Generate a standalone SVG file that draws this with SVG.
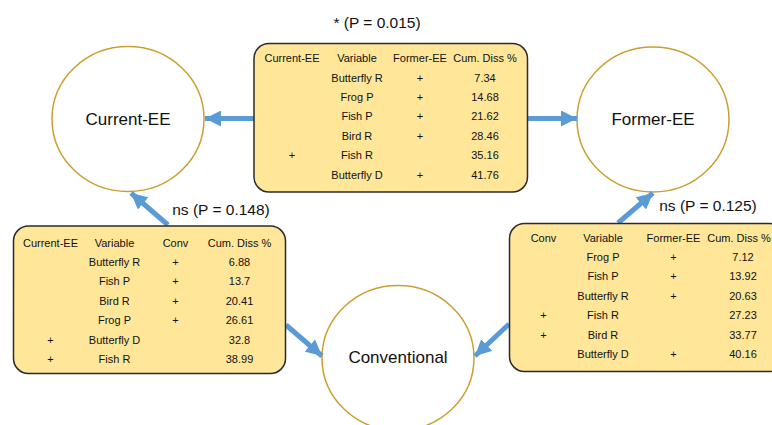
<svg xmlns="http://www.w3.org/2000/svg" width="772" height="425" viewBox="0 0 772 425">
<style>
.node{fill:#fff;stroke:#C9A030;stroke-width:1.5}
.lbl{font-family:"Liberation Sans",Arial,sans-serif;font-size:17px;fill:#111;text-anchor:middle}
.tbl{fill:#FFE699;stroke:#2b2b2b;stroke-width:1.5}
.t{font-family:"Liberation Sans",Arial,sans-serif;font-size:11px;fill:#111;text-anchor:middle}
.p{font-family:"Liberation Sans",Arial,sans-serif;font-size:15.5px;fill:#111;text-anchor:middle}
.c{stroke:#5B9BD5;stroke-width:5;fill:none}
</style>
<defs>
<marker id="ah" viewBox="0 0 10 10" refX="10" refY="5" markerWidth="3.2" markerHeight="3.2" orient="auto" markerUnits="strokeWidth">
<path d="M0,0 L10,5 L0,10 Z" fill="#5B9BD5"/>
</marker>
</defs>
<rect width="772" height="425" fill="#fff"/>

<g id="current-ee">
<ellipse class="node" cx="128" cy="119" rx="76" ry="72.5"/>
<text class="lbl" x="128" y="125">Current-EE</text>
</g>
<g id="former-ee">
<ellipse class="node" cx="653" cy="119.5" rx="76" ry="72.5"/>
<text class="lbl" x="653" y="125">Former-EE</text>
</g>
<g id="conventional">
<ellipse class="node" cx="398" cy="358" rx="76" ry="72.5"/>
<text class="lbl" x="398" y="363">Conventional</text>
</g>

<g id="connectors">
<line class="c" x1="254" y1="118.5" x2="205" y2="118.5" marker-end="url(#ah)"/>
<line class="c" x1="527" y1="118.5" x2="577" y2="118.5" marker-end="url(#ah)"/>
<line class="c" x1="168" y1="225" x2="131" y2="193" marker-end="url(#ah)"/>
<line class="c" x1="286" y1="325" x2="322" y2="356" marker-end="url(#ah)"/>
<line class="c" x1="509" y1="324" x2="475" y2="356" marker-end="url(#ah)"/>
<line class="c" x1="618" y1="223" x2="653" y2="193" marker-end="url(#ah)"/>
</g>

<g id="table-top">
<text class="p" x="377" y="28" font-size="16">* (P = 0.015)</text>
<rect class="tbl" x="254" y="43.5" width="273.5" height="148.5" rx="15"/>
<text class="t" x="292" y="62">Current-EE</text>
<text class="t" x="357" y="62">Variable</text>
<text class="t" x="420" y="62">Former-EE</text>
<text class="t" x="485" y="62">Cum. Diss %</text>
<text class="t" x="357" y="81.5">Butterfly R</text><text class="t" x="420" y="81.5">+</text><text class="t" x="485" y="81.5">7.34</text>
<text class="t" x="357" y="101">Frog P</text><text class="t" x="420" y="101">+</text><text class="t" x="485" y="101">14.68</text>
<text class="t" x="357" y="120">Fish P</text><text class="t" x="420" y="120">+</text><text class="t" x="485" y="120">21.62</text>
<text class="t" x="357" y="139.5">Bird R</text><text class="t" x="420" y="139.5">+</text><text class="t" x="485" y="139.5">28.46</text>
<text class="t" x="292" y="159">+</text><text class="t" x="357" y="159">Fish R</text><text class="t" x="485" y="159">35.16</text>
<text class="t" x="357" y="178.5">Butterfly D</text><text class="t" x="420" y="178.5">+</text><text class="t" x="485" y="178.5">41.76</text>
</g>

<g id="table-left">
<text class="p" x="221" y="215">ns (P = 0.148)</text>
<rect class="tbl" x="13.5" y="226" width="272" height="147.5" rx="15"/>
<text class="t" x="50.5" y="247">Current-EE</text>
<text class="t" x="114.5" y="247">Variable</text>
<text class="t" x="175.5" y="247">Conv</text>
<text class="t" x="239.5" y="247">Cum. Diss %</text>
<text class="t" x="114.5" y="265.5">Butterfly R</text><text class="t" x="175.5" y="265.5">+</text><text class="t" x="239.5" y="265.5">6.88</text>
<text class="t" x="114.5" y="285">Fish P</text><text class="t" x="175.5" y="285">+</text><text class="t" x="239.5" y="285">13.7</text>
<text class="t" x="114.5" y="304.5">Bird R</text><text class="t" x="175.5" y="304.5">+</text><text class="t" x="239.5" y="304.5">20.41</text>
<text class="t" x="114.5" y="324">Frog P</text><text class="t" x="175.5" y="324">+</text><text class="t" x="239.5" y="324">26.61</text>
<text class="t" x="50.5" y="343.5">+</text><text class="t" x="114.5" y="343.5">Butterfly D</text><text class="t" x="239.5" y="343.5">32.8</text>
<text class="t" x="50.5" y="363">+</text><text class="t" x="114.5" y="363">Fish R</text><text class="t" x="239.5" y="363">38.99</text>
</g>

<g id="table-right">
<text class="p" x="708" y="211">ns (P = 0.125)</text>
<rect class="tbl" x="509.5" y="223.5" width="275" height="148" rx="15"/>
<text class="t" x="543.5" y="242">Conv</text>
<text class="t" x="603" y="242">Variable</text>
<text class="t" x="673.5" y="242">Former-EE</text>
<text class="t" x="739" y="242" font-size="10.5">Cum. Diss %</text>
<text class="t" x="603" y="260.5">Frog P</text><text class="t" x="673.5" y="260.5">+</text><text class="t" x="743" y="260.5">7.12</text>
<text class="t" x="603" y="280">Fish P</text><text class="t" x="673.5" y="280">+</text><text class="t" x="743" y="280">13.92</text>
<text class="t" x="603" y="299.5">Butterfly R</text><text class="t" x="673.5" y="299.5">+</text><text class="t" x="743" y="299.5">20.63</text>
<text class="t" x="543.5" y="319">+</text><text class="t" x="603" y="319">Fish R</text><text class="t" x="743" y="319">27.23</text>
<text class="t" x="543.5" y="338.5">+</text><text class="t" x="603" y="338.5">Bird R</text><text class="t" x="743" y="338.5">33.77</text>
<text class="t" x="603" y="358">Butterfly D</text><text class="t" x="673.5" y="358">+</text><text class="t" x="743" y="358">40.16</text>
</g>
</svg>
